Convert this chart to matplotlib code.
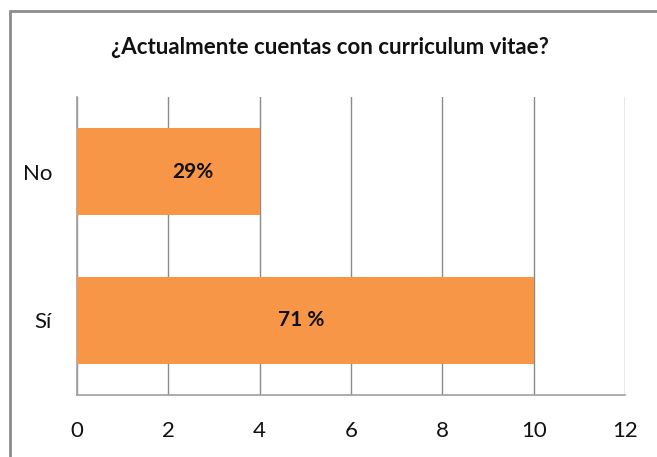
import matplotlib
matplotlib.use('Agg')
import matplotlib.pyplot as plt
from matplotlib.patches import Rectangle

# data
categories = ['Sí', 'No']
counts = [10, 4]
pct_labels = ['71 %', '29%']

plt.rcParams['font.family'] = ['Lato', 'DejaVu Sans']

fig = plt.figure(figsize=(6.57, 4.57), dpi=100)
ax = fig.add_axes([77 / 657, 1 - 395 / 457, 548 / 657, 298 / 457])

ax.barh(categories, counts, height=0.58, color='#F79646', zorder=3)

# labels inside bars (Excel puts the short one a bit right of centre)
nudge = {'Sí': -3, 'No': 18}
for cat, val, lab in zip(categories, counts, pct_labels):
    ax.annotate(lab, (val / 2, cat), xytext=(nudge[cat], 0), textcoords='offset points',
                ha='center', va='center', fontsize=15, fontweight='bold', color='#111111', zorder=4)

ax.set_xlim(0, 12)
ax.set_ylim(-0.5, 1.5)
ax.set_xticks(range(0, 13, 2))
ax.grid(axis='x', color='#8a8a8a', lw=1, zorder=1)
ax.tick_params(axis='both', length=0, labelsize=16, colors='#111111')
ax.tick_params(axis='x', pad=19)
ax.tick_params(axis='y', pad=18)

for s in ['top', 'right']:
    ax.spines[s].set_visible(False)
for s in ['left', 'bottom']:
    ax.spines[s].set_color('#a0a0a0')
    ax.spines[s].set_linewidth(1.2)

fig.text(330 / 657, 1 - 48 / 457, '¿Actualmente cuentas con curriculum vitae?',
         ha='center', va='center', fontsize=16, fontweight='bold', color='#111111')

# chart border (cropped at right and bottom in the screenshot)
fig.patches.append(Rectangle((10 / 657, -0.1), 1.2, 1.1 - 11 / 457, transform=fig.transFigure,
                             fill=False, edgecolor='#8c8c8c', lw=2, clip_on=False))

fig.savefig('out.png', dpi=100, facecolor='white')
